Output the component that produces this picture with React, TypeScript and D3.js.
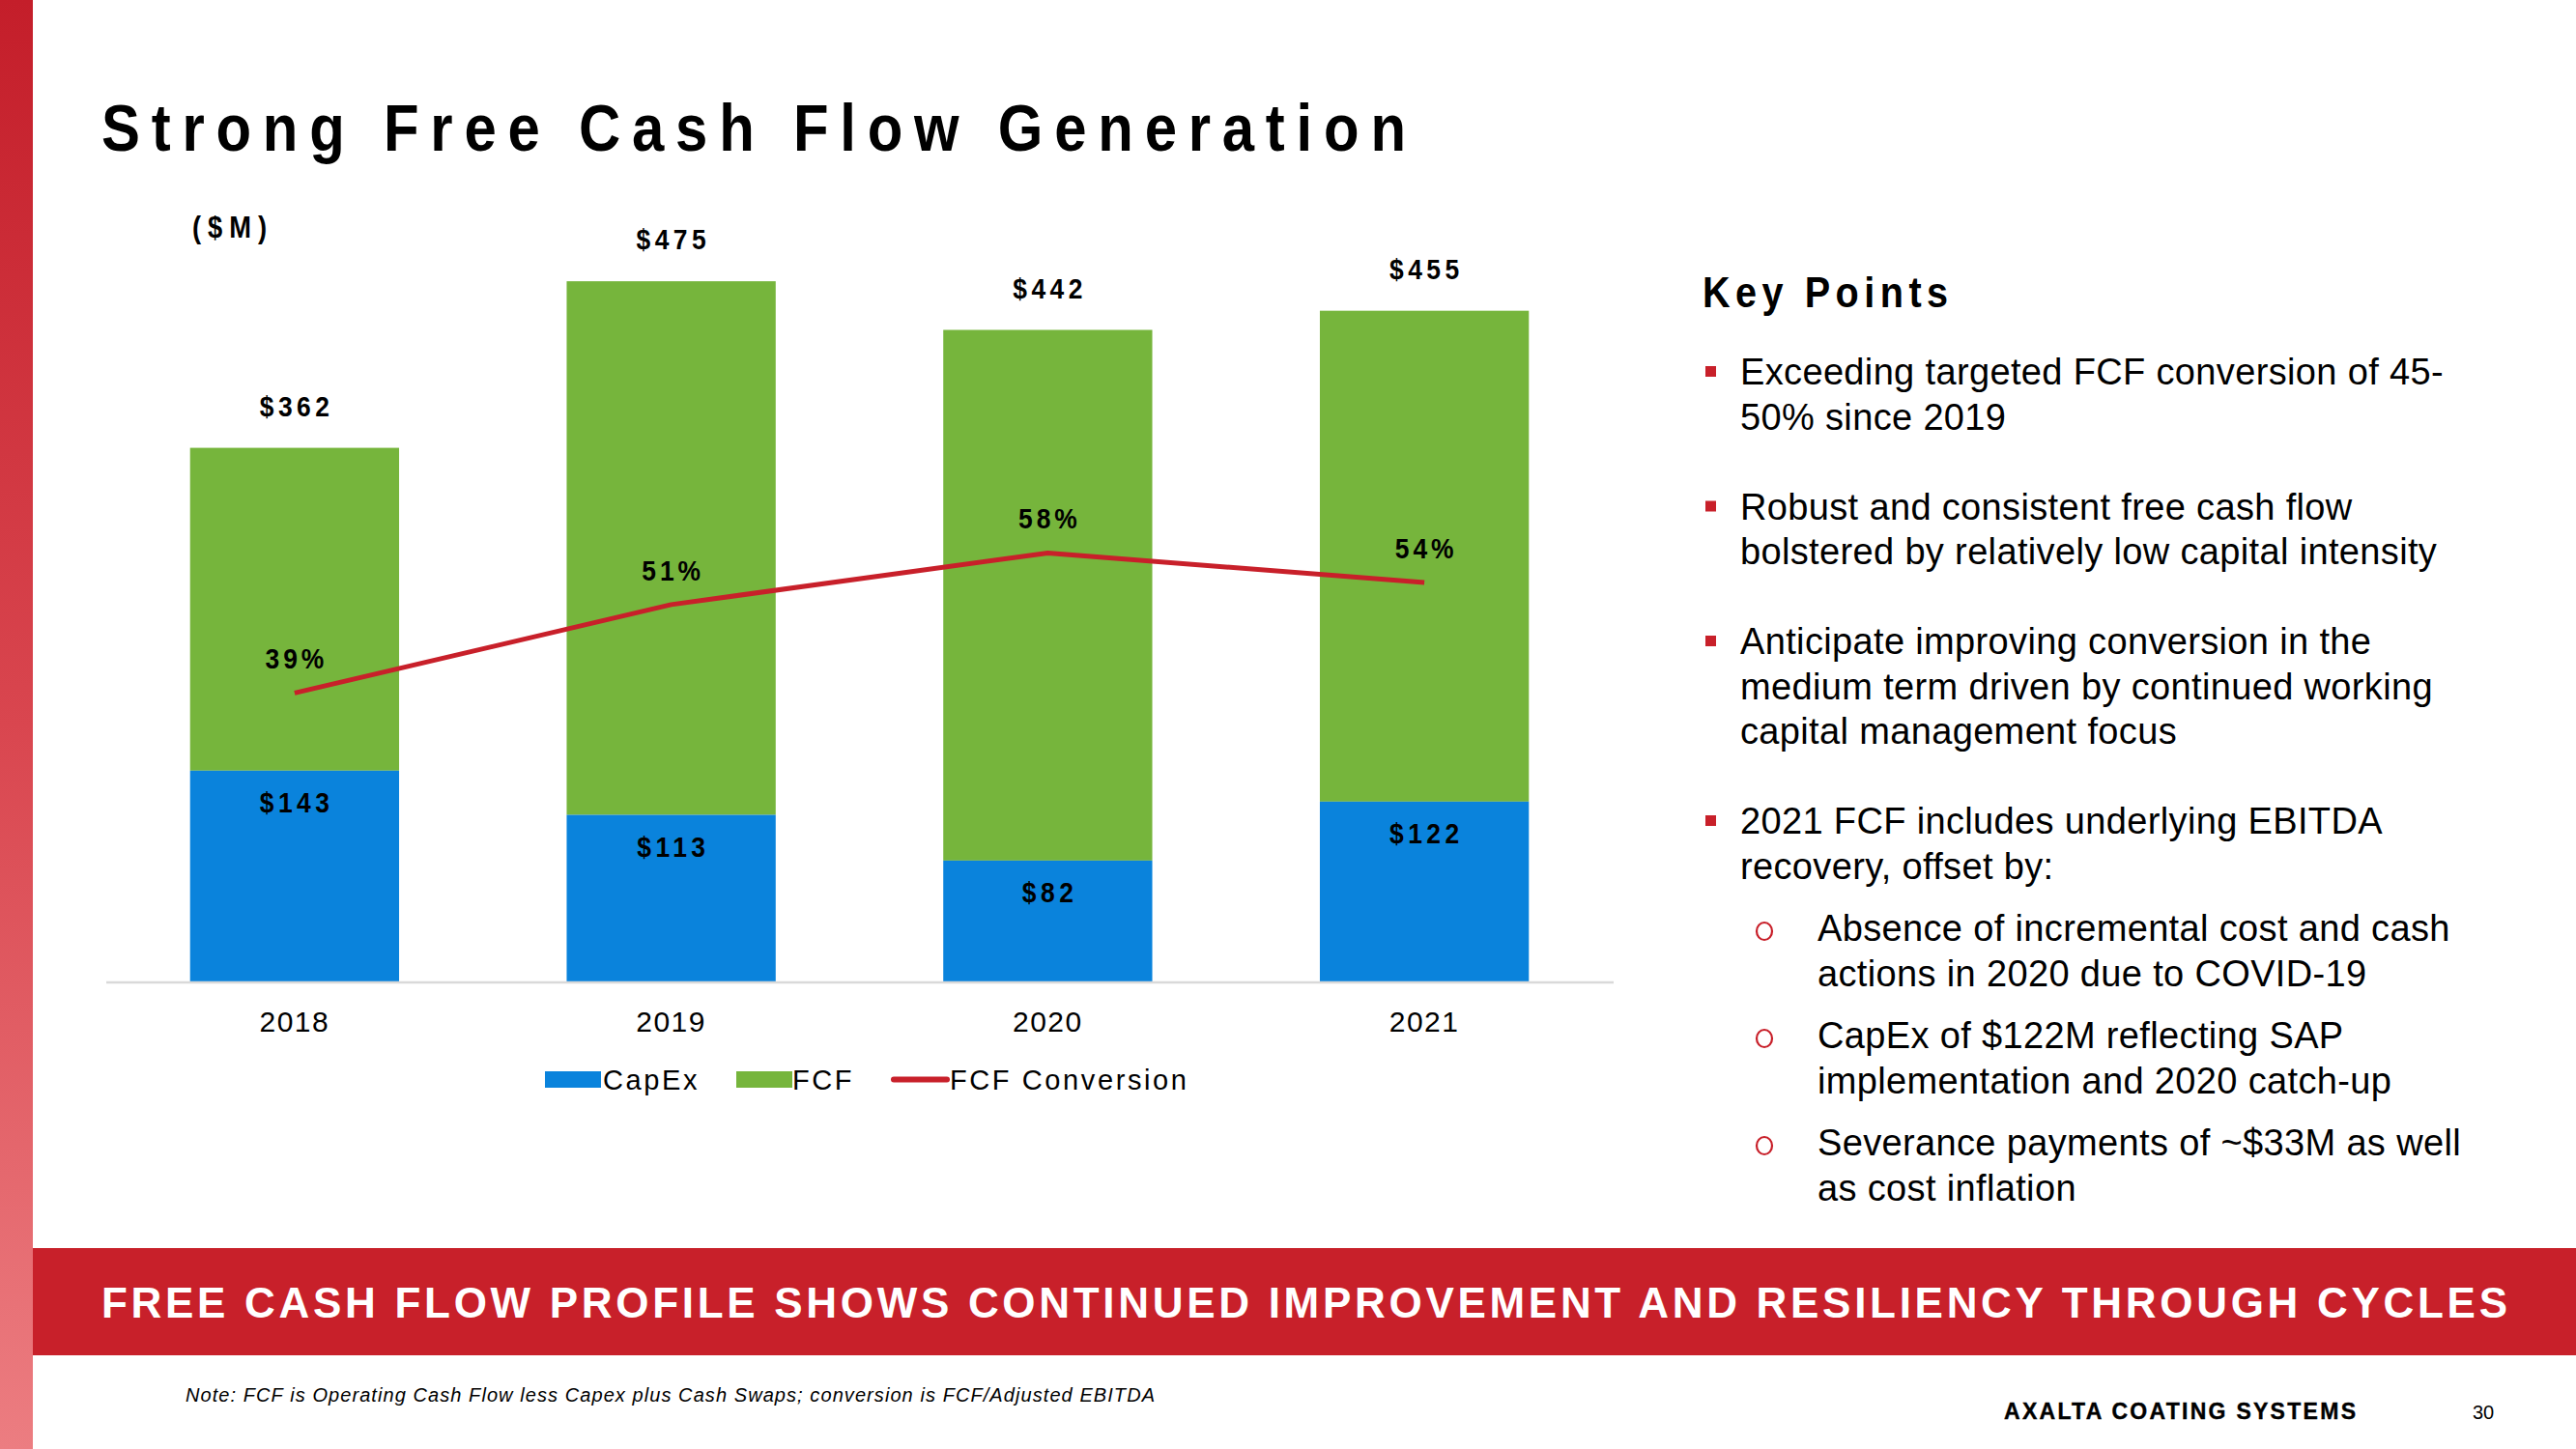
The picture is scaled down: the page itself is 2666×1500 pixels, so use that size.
import React from 'react';
import * as d3 from 'd3';

// ---------- data ----------
const years = ['2018', '2019', '2020', '2021'];
const capex = [143, 113, 82, 122];
const fcf = [362, 475, 442, 455];
const conversion = [0.39, 0.51, 0.58, 0.54];
const legendLabels = ['CapEx', 'FCF', 'FCF Conversion'];

const title = 'Strong Free Cash Flow Generation';
const unitLabel = '($M)';
const keyPointsTitle = 'Key Points';
const keyPoints: { level: number; lines: string[] }[] = [
  { level: 1, lines: ['Exceeding targeted FCF conversion of 45-', '50%  since 2019'] },
  { level: 1, lines: ['Robust and consistent free cash flow', 'bolstered by relatively low capital intensity'] },
  { level: 1, lines: ['Anticipate improving conversion in the', 'medium term driven by continued working', 'capital management focus'] },
  { level: 1, lines: ['2021 FCF includes underlying EBITDA', 'recovery, offset by:'] },
  { level: 2, lines: ['Absence of incremental cost and cash', 'actions in 2020 due to COVID-19'] },
  { level: 2, lines: ['CapEx of $122M reflecting SAP', 'implementation and 2020 catch-up'] },
  { level: 2, lines: ['Severance payments of ~$33M as well', 'as cost inflation'] },
];
const bannerText = 'FREE CASH FLOW PROFILE SHOWS CONTINUED IMPROVEMENT AND RESILIENCY THROUGH CYCLES';
const noteText = 'Note: FCF is Operating Cash Flow less Capex plus Cash Swaps; conversion is FCF/Adjusted EBITDA';
const brandText = 'AXALTA COATING SYSTEMS';
const pageNumber = '30';

// ---------- styles ----------
const FONT = '"Liberation Sans", Arial, Helvetica, sans-serif';
const BLUE = '#0A83DC';
const GREEN = '#76B53C';
const RED = '#C8202A';

// narrow (horizontally condensed) text with tracking, like Arial Narrow
function NText(props: {
  x: number;
  y: number;
  size: number;
  ls: number;
  sx?: number;
  bold?: boolean;
  anchor?: 'start' | 'middle' | 'end';
  fill?: string;
  children: React.ReactNode;
}) {
  const sx = props.sx ?? 0.88;
  const anchor = props.anchor ?? 'start';
  const shift = anchor === 'middle' ? props.ls / 2 : 0;
  return (
    <text
      transform={`translate(${props.x + shift},${props.y}) scale(${sx},1)`}
      fontSize={props.size}
      fontWeight={props.bold ? 'bold' : 'normal'}
      letterSpacing={props.ls / sx}
      textAnchor={anchor}
      fill={props.fill ?? '#000'}
    >
      {props.children}
    </text>
  );
}

export default function App() {
  const W = 2666;
  const H = 1500;
  const baseY = 1016;

  const x = d3.scaleBand<string>().domain(years).range([110, 1669]).paddingInner(0.445).paddingOuter(0.2225);
  const y = d3.scaleLinear().domain([0, 500]).range([baseY, 253]);
  const yPct = d3.scaleLinear().domain([0, 1]).range([1015, 252]);
  const bw = x.bandwidth();
  const cx = (i: number) => (x(years[i]) as number) + bw / 2;

  const linePath = d3
    .line<number>()
    .x((_, i) => cx(i))
    .y((d) => yPct(d))(conversion) as string;

  const fmtPct = d3.format('.0%');

  // key points layout
  const kpLines: { text: string; y: number; level: number; first: boolean }[] = [];
  let yy = 398;
  const pitch = 46.5;
  keyPoints.forEach((kp, k) => {
    if (k > 0) yy += kp.level === 1 ? pitch * 2 : pitch + 18;
    kp.lines.forEach((t, j) => {
      if (j > 0) yy += pitch;
      kpLines.push({ text: t, y: yy, level: kp.level, first: j === 0 });
    });
  });

  // legend layout
  const legendItems = [
    { label: legendLabels[0], kind: 'rect', color: BLUE, x0: 564, tx: 624 },
    { label: legendLabels[1], kind: 'rect', color: GREEN, x0: 762, tx: 820 },
    { label: legendLabels[2], kind: 'line', color: RED, x0: 922, tx: 983 },
  ];

  return (
    <svg
      width={W}
      height={H}
      viewBox={`0 0 ${W} ${H}`}
      style={{ position: 'absolute', left: 0, top: 0, display: 'block', background: '#fff' }}
      fontFamily={FONT}
    >
      <defs>
        <linearGradient id="stripe" x1="0" y1="0" x2="0" y2="1">
          <stop offset="0" stopColor="#C41E2A" />
          <stop offset="0.5" stopColor="#D9464F" />
          <stop offset="1" stopColor="#EC7D81" />
        </linearGradient>
      </defs>
      <rect x={0} y={0} width={W} height={H} fill="#fff" />
      <rect x={0} y={0} width={34} height={H} fill="url(#stripe)" />

      {/* title */}
      <NText x={105} y={156} size={68} bold ls={11.8}>
        {title}
      </NText>
      <NText x={199} y={246} size={31} bold ls={7}>
        {unitLabel}
      </NText>

      {/* bars */}
      {years.map((yr, i) => (
        <g key={yr}>
          <rect x={x(yr)} y={y(fcf[i])} width={bw} height={y(capex[i]) - y(fcf[i])} fill={GREEN} />
          <rect x={x(yr)} y={y(capex[i])} width={bw} height={baseY - y(capex[i])} fill={BLUE} />
        </g>
      ))}

      {/* axis line */}
      <line x1={110} x2={1670} y1={baseY + 1} y2={baseY + 1} stroke="#D9D9D9" strokeWidth={2.5} />

      {/* year labels */}
      {years.map((yr, i) => (
        <text key={yr} x={cx(i)} y={1068} textAnchor="middle" fontSize={30} letterSpacing={1.5} fill="#000">
          {yr}
        </text>
      ))}

      {/* value labels */}
      {years.map((yr, i) => (
        <g key={'v' + yr}>
          <NText x={cx(i)} y={y(fcf[i]) - 33} size={30} bold ls={4.5} anchor="middle">{`$${fcf[i]}`}</NText>
          <NText x={cx(i)} y={y(capex[i]) + 43} size={30} bold ls={4.5} anchor="middle">{`$${capex[i]}`}</NText>
        </g>
      ))}

      {/* conversion line */}
      <path d={linePath} fill="none" stroke={RED} strokeWidth={5} strokeLinejoin="round" />
      {conversion.map((c, i) => (
        <NText key={'p' + i} x={cx(i)} y={yPct(c) - 25} size={30} bold ls={4} anchor="middle">
          {fmtPct(c)}
        </NText>
      ))}

      {/* legend */}
      {legendItems.map((it) => (
        <g key={it.label}>
          {it.kind === 'rect' ? (
            <rect x={it.x0} y={1109} width={58} height={17} fill={it.color} />
          ) : (
            <line x1={it.x0 + 3} x2={it.x0 + 58} y1={1117.5} y2={1117.5} stroke={it.color} strokeWidth={6} strokeLinecap="round" />
          )}
          <text x={it.tx} y={1128} fontSize={29} letterSpacing={2.6} fill="#000">
            {it.label}
          </text>
        </g>
      ))}

      {/* key points */}
      <NText x={1762} y={318} size={45} bold ls={5.5}>
        {keyPointsTitle}
      </NText>
      {kpLines.map((l, i) => (
        <g key={'kp' + i}>
          {l.first && l.level === 1 && <rect x={1765} y={l.y - 19} width={11} height={11} fill={RED} />}
          {l.first && l.level === 2 && (
            <ellipse cx={1826} cy={l.y - 10} rx={8} ry={9} fill="none" stroke={RED} strokeWidth={2.2} />
          )}
          <text x={l.level === 1 ? 1801 : 1881} y={l.y} fontSize={38} letterSpacing={0.35} fill="#000">
            {l.text}
          </text>
        </g>
      ))}

      {/* banner */}
      <rect x={34} y={1292} width={W - 34} height={111} fill={RED} />
      <text x={105} y={1364} fontSize={44} fontWeight="bold" fill="#fff" textLength={2490} lengthAdjust="spacing">
        {bannerText}
      </text>

      {/* footer */}
      <text x={192} y={1451} fontSize={20} fontStyle="italic" fill="#000" textLength={1003} lengthAdjust="spacing">
        {noteText}
      </text>
      <text x={2074} y={1469} fontSize={23} fontWeight="bold" fill="#000" stroke="#000" strokeWidth={0.4} textLength={364} lengthAdjust="spacing">
        {brandText}
      </text>
      <text x={2559} y={1469} fontSize={20} fill="#000">
        {pageNumber}
      </text>
    </svg>
  );
}
